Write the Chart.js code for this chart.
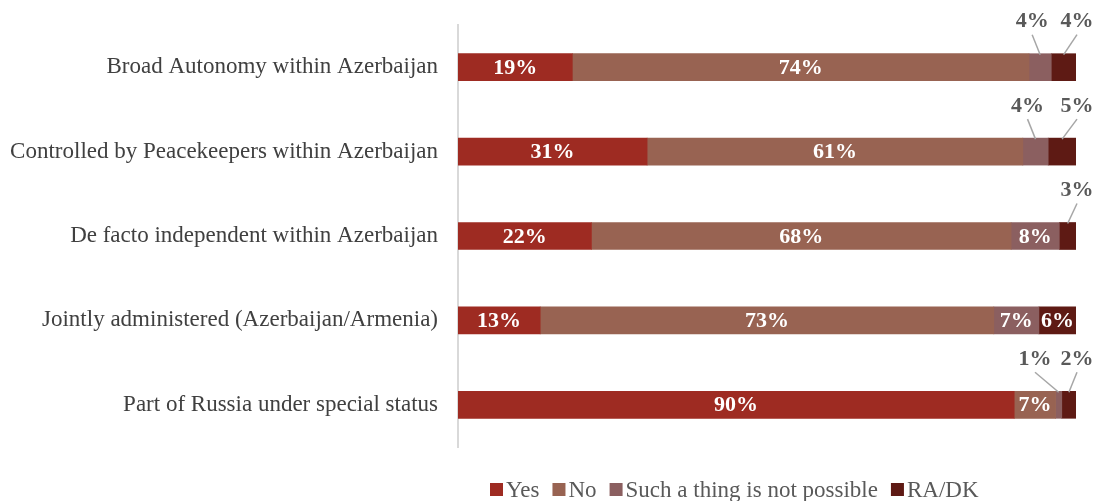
<!DOCTYPE html>
<html lang="en">
<head>
  <meta charset="UTF-8" />
  <title>Status preferences</title>
  <script src="https://cdn.jsdelivr.net/npm/chart.js@4.4.1/dist/chart.umd.min.js"></script>
  <style>
    html, body { margin: 0; padding: 0; background: #fff; }
    #wrap { width: 1096px; height: 501px; }
  </style>
</head>
<body>
<div id="wrap">
  <canvas id="statusChart" width="1096" height="501"></canvas>
</div>
<script>
  const categories = [
    "Broad Autonomy within Azerbaijan",
    "Controlled by Peacekeepers within Azerbaijan",
    "De facto independent within Azerbaijan",
    "Jointly administered (Azerbaijan/Armenia)",
    "Part of Russia under special status",
  ];
  const seriesNames = ["Yes", "No", "Such a thing is not possible", "RA/DK"];
  const yesValues = [18.5, 30.6, 21.6, 13.3, 90.0];
  const noValues = [73.9, 60.8, 67.9, 73.4, 6.7];
  const notPossibleValues = [3.6, 4.1, 7.8, 7.3, 1.0];
  const radkValues = [4.0, 4.5, 2.7, 6.0, 2.3];
  const colors = ["#9e2b22", "#986352", "#8b5f60", "#5e1a14"];

  const serif = "'Liberation Serif', 'DejaVu Serif', serif";

  // data labels: white inside wide segments, grey call-outs above narrow ones
  const labelPlugin = {
    id: "segmentLabels",
    afterDatasetsDraw(chart) {
      const ctx = chart.ctx;
      const n = chart.data.labels.length;
      ctx.save();
      ctx.font = "bold 22px " + serif;
      ctx.textAlign = "center";
      ctx.textBaseline = "middle";
      for (let j = 0; j < n; j++) {
        let raLabelX = null;
        for (let i = chart.data.datasets.length - 1; i >= 0; i--) {
          const el = chart.getDatasetMeta(i).data[j];
          const v = chart.data.datasets[i].data[j];
          const text = Math.round(v) + "%";
          const w = el.x - el.base;
          const cx = (el.x + el.base) / 2;
          if (w >= 32) {
            ctx.fillStyle = "#ffffff";
            ctx.fillText(text, cx, el.y + 1);
            continue;
          }
          const top = el.y - el.height / 2;
          let lx;
          if (i === chart.data.datasets.length - 1) {
            lx = el.x + 1;
            raLabelX = lx;
          } else {
            lx = raLabelX !== null ? Math.min(cx - 8, raLabelX - 42) : cx - 8;
          }
          const ly = top - 32;
          ctx.strokeStyle = "#a6a6a6";
          ctx.lineWidth = 1.5;
          ctx.beginPath();
          ctx.moveTo(lx, ly + 13);
          ctx.lineTo(cx, top + 1);
          ctx.stroke();
          ctx.fillStyle = "#595959";
          ctx.fillText(text, lx, ly);
        }
      }
      ctx.restore();
    },
  };

  // legend drawn under the plot, to the right like the original
  const legendPlugin = {
    id: "bottomLegend",
    afterDraw(chart) {
      const ctx = chart.ctx;
      ctx.save();
      ctx.font = "23px " + serif;
      ctx.textBaseline = "middle";
      ctx.textAlign = "left";
      let x = 490;
      const y = 490;
      chart.data.datasets.forEach((ds) => {
        ctx.fillStyle = ds.backgroundColor;
        ctx.fillRect(x, y - 7, 13, 13);
        x += 16;
        ctx.fillStyle = "#595959";
        ctx.fillText(ds.label, x, y + 1);
        x += ctx.measureText(ds.label).width + 13;
      });
      ctx.restore();
    },
  };

  const valueSets = [yesValues, noValues, notPossibleValues, radkValues];

  const config = {
    type: "bar",
    data: {
      labels: categories,
      datasets: seriesNames.map((name, i) => ({
        label: name,
        data: valueSets[i],
        backgroundColor: colors[i],
        borderWidth: 0,
        barThickness: 27,
      })),
    },
    options: {
      indexAxis: "y",
      responsive: false,
      animation: false,
      layout: { padding: { top: 25, bottom: 54, right: 20, left: 0 } },
      plugins: {
        legend: { display: false },
        tooltip: { enabled: false },
      },
      scales: {
        x: {
          stacked: true,
          min: 0,
          max: 100,
          display: false,
        },
        y: {
          stacked: true,
          grid: { display: false },
          border: { color: "#d9d9d9", width: 2 },
          ticks: {
            color: "#404040",
            font: { family: serif, size: 23 },
            padding: 12,
          },
          afterFit(scale) {
            scale.width = 458;
            scale.paddingTop = 0;
            scale.paddingBottom = 0;
          },
        },
      },
    },
    plugins: [labelPlugin, legendPlugin],
  };

  new Chart(document.getElementById("statusChart"), config);
</script>
</body>
</html>
